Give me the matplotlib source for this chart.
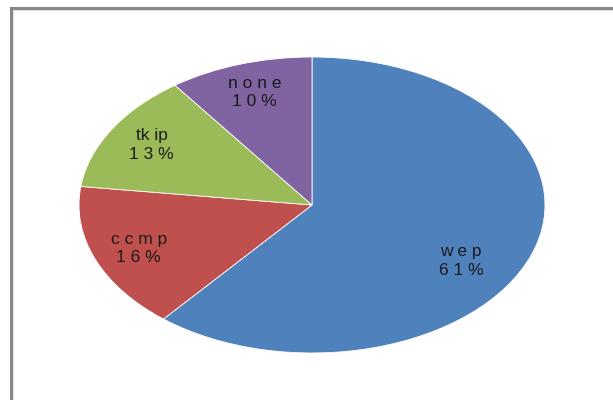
import matplotlib.pyplot as plt
from matplotlib.patches import Rectangle

plt.rcParams['font.family'] = ['Liberation Sans', 'DejaVu Sans']

# data
categories = ['w e p', 'c c m p', 'tk ip', 'n o n e']
pct_labels = ['6 1 %', '1 6 %', '1 3 %', '1 0 %']
values = [61, 16, 13, 10]
colors = ['#4F81BD', '#C0504D', '#9BBB59', '#8064A2']

W, H = 613, 400
fig = plt.figure(figsize=(W / 100, H / 100), dpi=100)

# chart frame (open to the right and bottom, like the crop)
fig.patches.append(Rectangle((10.5 / W, -0.1), 1.2, 1 - 7.5 / H + 0.1,
                             transform=fig.transFigure, fill=False,
                             edgecolor='#878787', linewidth=2.2))
fig.patches.append(Rectangle((12.5 / W, -0.1), 1.2, 1 - 9.5 / H + 0.1,
                             transform=fig.transFigure, fill=False,
                             edgecolor='#e0e0e0', linewidth=0.8))

# ellipse: center (312, 205), rx 233, ry 148
cx, cy, rx, ry = 312, 205, 233, 148
ax = fig.add_axes([(cx - rx) / W, (H - cy - ry) / H, 2 * rx / W, 2 * ry / H])

labels = [f'{c}\n{p}' for c, p in zip(categories, pct_labels)]
wedges, texts = ax.pie(values, colors=colors, startangle=90, counterclock=False,
                       labels=labels, labeldistance=0.8,
                       wedgeprops=dict(edgecolor='white', linewidth=0.6),
                       textprops=dict(fontsize=12.5, color='#1a1a1a',
                                      ha='center', va='center',
                                      linespacing=1.3))
for t in texts:
    t.set_horizontalalignment('center')
    t.set_multialignment('center')
# excel pushes the big slice's label further down
texts[0].set_position((0.64, -0.38))

ax.set_aspect('auto')
ax.set_xlim(-1, 1)
ax.set_ylim(-1, 1)
ax.axis('off')

fig.savefig('out.png', dpi=100)
